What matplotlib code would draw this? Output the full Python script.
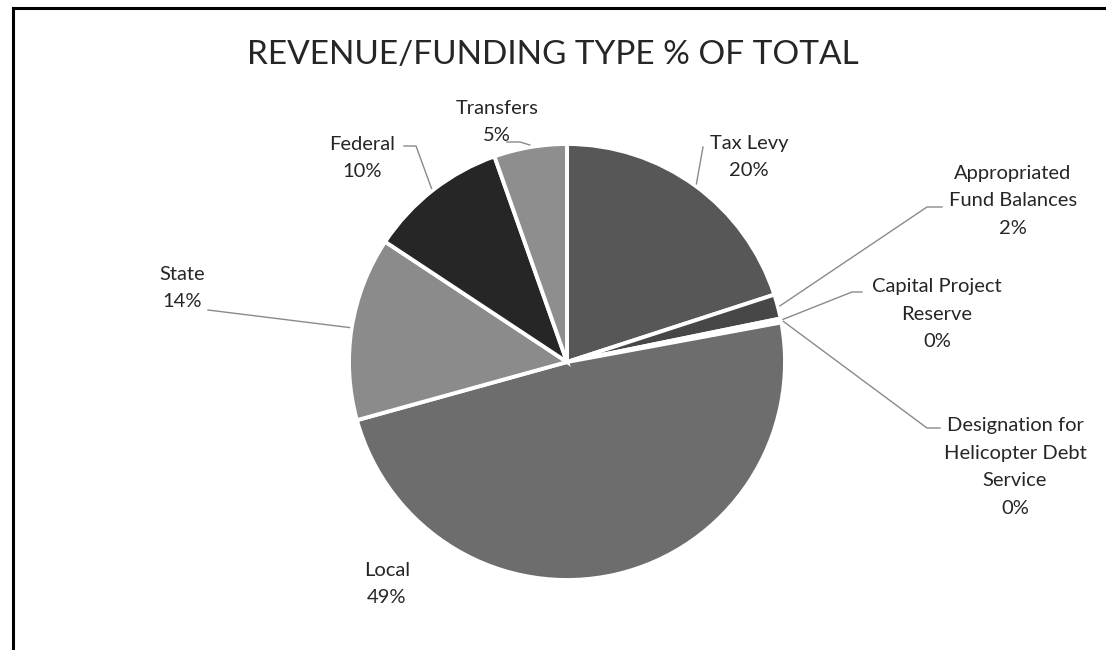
import numpy as np
import matplotlib.pyplot as plt

# Data (clockwise from 12 o'clock)
labels = ['Tax Levy', 'Appropriated\nFund Balances', 'Capital Project\nReserve',
          'Designation for\nHelicopter Debt\nService', 'Local', 'State', 'Federal', 'Transfers']
shares = [20.0, 1.8, 0.2, 0.1, 48.6, 13.6, 10.3, 5.4]
colors = ['#575757', '#474747', '#3c3c3c', '#606060', '#6d6d6d', '#8b8b8b', '#262626', '#8e8e8e']

W, H = 1106, 650
cx, cy, R = 567, 362, 218  # pie centre / radius in pixels

plt.rcParams['font.family'] = ['Lato', 'DejaVu Sans']
fig = plt.figure(figsize=(W / 100, H / 100), dpi=100)

# frame lines (only top and left visible in the reference)
fig.add_artist(plt.Line2D([13 / W, 1], [1 - 8 / H, 1 - 8 / H], color='black', lw=2.2))
fig.add_artist(plt.Line2D([13 / W, 13 / W], [0, 1 - 8 / H], color='black', lw=2.2))

ax = fig.add_axes([(cx - R) / W, (H - cy - R) / H, 2 * R / W, 2 * R / H])
wedges, _ = ax.pie(shares, colors=colors, startangle=90, counterclock=False, radius=1,
                   wedgeprops=dict(edgecolor='white', linewidth=2.8))
ax.set_xlim(-1, 1)
ax.set_ylim(-1, 1)
ax.set_aspect('equal')
ax.axis('off')


def px(x, y):
    # pixel -> pie data coords
    return (x - cx) / R, (cy - y) / R


def edge_point(w, r=1.01):
    a = np.deg2rad((w.theta1 + w.theta2) / 2)
    return r * np.cos(a), r * np.sin(a)


# label text position (pixels) and leader elbow points (pixels)
label_pos = [(749, 157), (1013, 201), (937, 314), (1015, 467), (387, 584), (182, 288), (362, 158), (497, 122)]
leaders = {
    0: [(703, 147)],
    1: [(942, 207), (927, 207)],
    2: [(862, 292), (852, 292)],
    3: [(940, 428), (927, 428)],
    5: [(208, 310)],
    6: [(404, 146), (416, 146)],
    7: [(507, 142), (520, 142)],
}

for i, (w, lab) in enumerate(zip(wedges, labels)):
    tx, ty = px(*label_pos[i])
    ax.text(tx, ty, f"{lab}\n{shares[i]:.0f}%", ha='center', va='center', fontsize=14.5,
            color='#262626', linespacing=1.75, clip_on=False)
    if i in leaders:
        pts = [px(*p) for p in leaders[i]] + [edge_point(w)]
        xs, ys = zip(*pts)
        ax.plot(xs, ys, color='#8a8a8a', lw=1.0, clip_on=False)

fig.text(553 / W, 1 - 55 / H, 'REVENUE/FUNDING TYPE % OF TOTAL', ha='center', va='center',
         fontsize=24, color='#262626')

fig.savefig('out.png', dpi=100, facecolor='white')
